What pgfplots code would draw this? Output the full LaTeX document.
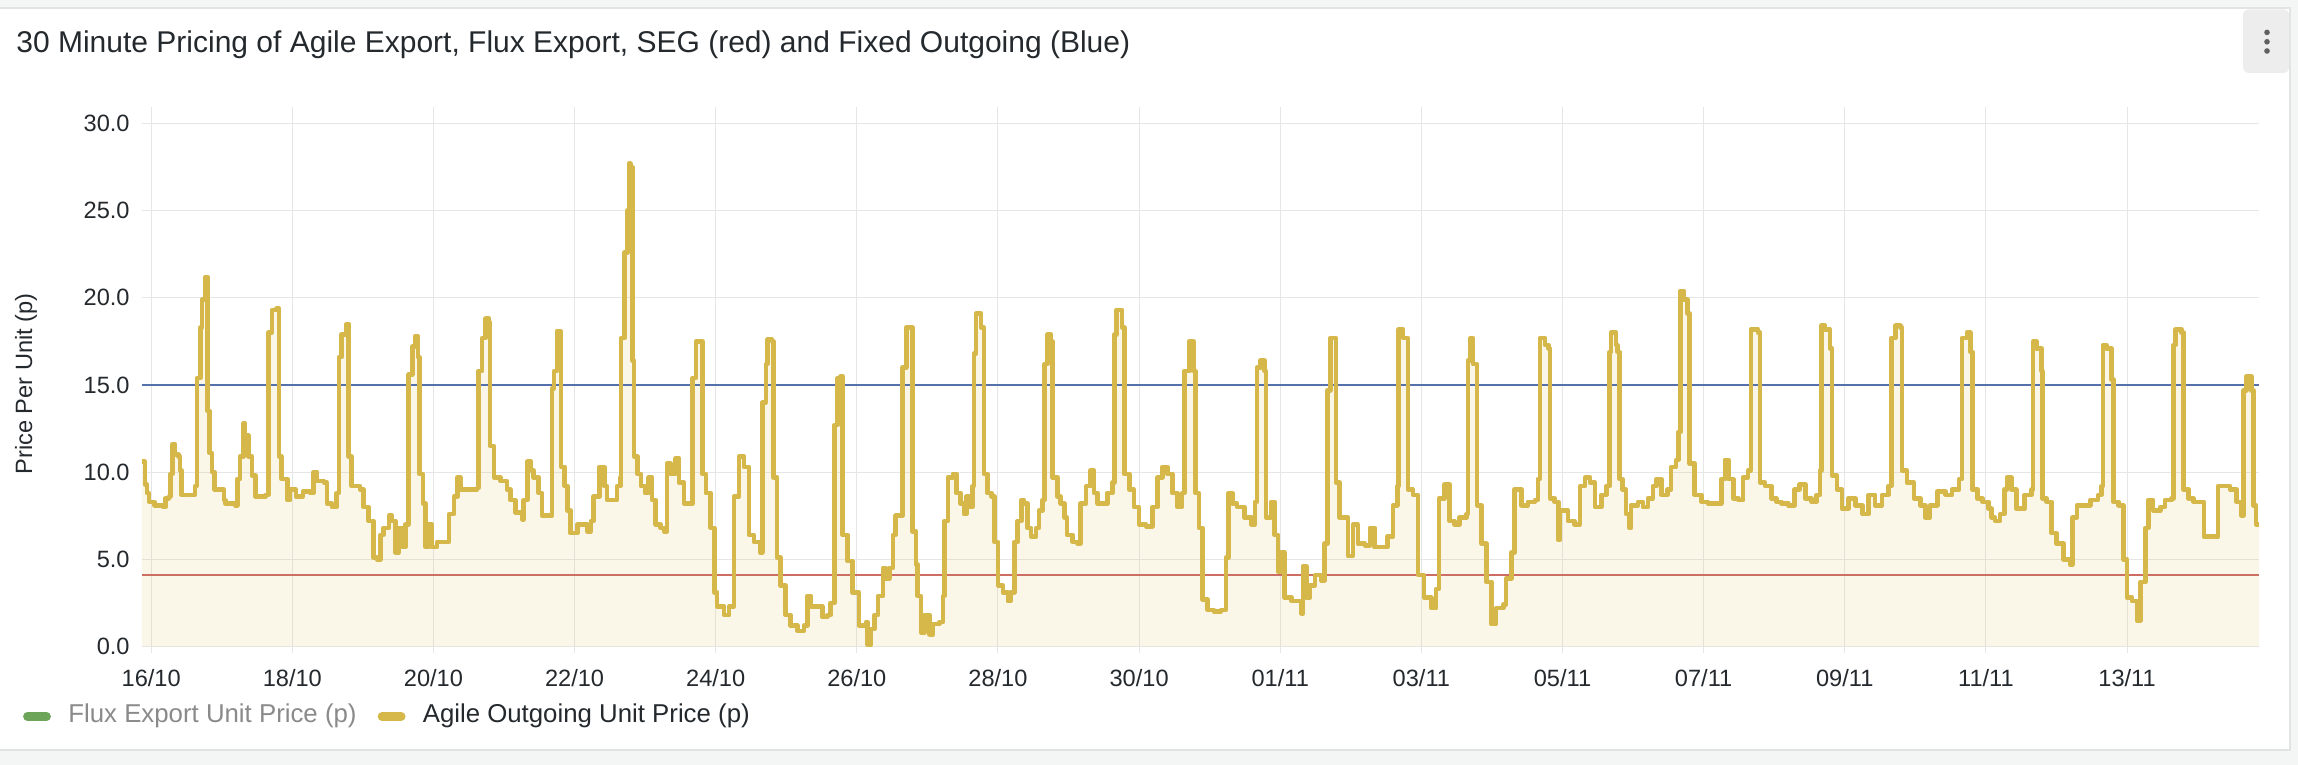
\documentclass[border=0pt]{standalone}
\usepackage{fontspec}
\setmainfont{Liberation Sans}
\usepackage{pgfplots}
\pgfplotsset{compat=1.18}
\usepackage{pgfplotstable}
\definecolor{bggray}{HTML}{F4F5F5}
\definecolor{bordergray}{HTML}{E2E3E4}
\definecolor{gridgray}{HTML}{E6E6E6}
\definecolor{agile}{HTML}{D6B84A}
\definecolor{fixedblue}{HTML}{5570AA}
\definecolor{segred}{HTML}{CD6E64}
\definecolor{fluxgreen}{HTML}{6CA55A}
\definecolor{textdark}{HTML}{24292E}
\definecolor{textgray}{HTML}{8A8A8A}
\definecolor{btngray}{HTML}{EDEDED}
\definecolor{dotgray}{HTML}{606060}

\pgfplotstableread{
x y
-0.13 10.6
-0.11 10.6
-0.09 9.3
-0.06 8.8
-0.03 8.3
0.05 8.1
0.17 8.0
0.20 8.5
0.25 8.6
0.27 9.9
0.30 11.6
0.34 11.0
0.39 10.9
0.41 10.1
0.43 8.7
0.60 8.7
0.62 9.2
0.65 15.4
0.70 18.3
0.72 19.9
0.77 21.2
0.79 21.2
0.80 13.5
0.83 11.1
0.86 10.0
0.90 9.0
1.03 8.4
1.05 8.2
1.19 8.1
1.22 9.6
1.26 10.9
1.31 12.8
1.33 12.1
1.38 10.9
1.43 9.8
1.48 8.6
1.62 8.7
1.66 18.0
1.71 19.3
1.78 19.4
1.81 10.9
1.85 9.6
1.93 8.4
1.97 9.0
2.05 8.6
2.15 8.9
2.25 8.8
2.30 10.0
2.35 9.5
2.45 9.4
2.49 8.2
2.56 8.0
2.63 8.8
2.66 16.6
2.70 17.9
2.77 18.5
2.80 10.9
2.84 9.2
2.96 9.0
3.01 8.0
3.08 7.2
3.15 5.1
3.20 5.0
3.25 6.4
3.29 6.8
3.37 7.5
3.41 7.2
3.46 5.4
3.51 6.8
3.56 5.7
3.60 7.0
3.65 15.6
3.70 17.2
3.74 17.8
3.78 16.6
3.80 9.9
3.85 8.2
3.89 5.7
3.93 7.0
3.98 5.7
4.05 6.0
4.17 6.0
4.22 7.6
4.29 8.6
4.34 9.7
4.38 9.0
4.62 9.1
4.64 15.8
4.69 17.7
4.74 18.8
4.79 18.6
4.80 11.5
4.86 9.7
4.95 9.5
5.04 9.0
5.09 8.4
5.16 7.7
5.26 7.3
5.28 8.4
5.33 10.6
5.38 10.1
5.42 9.7
5.49 8.8
5.54 7.5
5.66 7.5
5.68 14.8
5.71 15.8
5.75 18.1
5.80 18.0
5.81 10.3
5.86 9.2
5.90 7.8
5.94 6.5
6.04 7.0
6.18 6.6
6.23 7.2
6.27 8.6
6.35 10.3
6.42 9.2
6.46 8.4
6.58 8.4
6.60 9.2
6.65 9.7
6.66 17.7
6.71 22.6
6.75 25.0
6.77 27.7
6.79 27.5
6.82 16.4
6.84 10.9
6.89 9.9
6.94 9.2
7.00 8.8
7.05 9.7
7.10 8.4
7.15 7.0
7.22 6.8
7.27 6.6
7.31 10.5
7.36 9.9
7.43 10.8
7.48 9.4
7.55 8.2
7.62 8.2
7.67 15.4
7.72 17.5
7.79 17.5
7.81 9.9
7.86 8.8
7.93 6.8
7.98 3.1
8.02 2.3
8.12 1.8
8.19 2.3
8.26 8.6
8.33 10.9
8.40 10.3
8.47 6.4
8.54 6.0
8.63 5.4
8.66 14.0
8.71 16.2
8.73 17.6
8.80 17.5
8.82 9.7
8.87 5.1
8.92 3.5
8.99 1.8
9.06 1.2
9.16 0.9
9.25 1.2
9.30 2.9
9.35 2.3
9.44 2.3
9.51 1.7
9.58 1.8
9.63 2.5
9.68 12.7
9.73 15.4
9.77 15.5
9.80 6.4
9.87 4.9
9.94 3.1
10.03 1.2
10.13 1.4
10.15 0.1
10.20 1.0
10.25 1.8
10.30 2.9
10.37 4.5
10.41 3.9
10.46 4.5
10.51 6.4
10.55 7.5
10.63 7.5
10.65 16.0
10.70 18.3
10.77 18.3
10.79 6.6
10.84 4.7
10.86 2.9
10.91 0.8
10.96 1.8
11.03 0.7
11.08 1.3
11.17 1.4
11.22 2.9
11.24 7.2
11.29 9.7
11.36 9.9
11.41 8.8
11.47 8.2
11.52 7.6
11.55 8.6
11.59 8.0
11.64 9.2
11.66 16.8
11.69 19.1
11.76 18.3
11.80 9.9
11.85 8.8
11.91 8.6
11.95 6.0
12.00 3.5
12.07 3.1
12.14 2.6
12.18 3.1
12.23 6.0
12.28 7.2
12.33 8.4
12.37 8.2
12.42 6.8
12.47 6.3
12.54 6.8
12.58 7.8
12.63 8.4
12.66 16.2
12.70 17.9
12.75 17.5
12.77 9.7
12.84 8.6
12.89 8.2
12.94 7.4
12.98 6.4
13.06 6.0
13.13 5.9
13.17 8.2
13.25 9.2
13.31 10.1
13.36 8.8
13.41 8.2
13.48 8.2
13.55 8.8
13.62 9.4
13.65 17.9
13.68 19.3
13.76 18.3
13.79 9.9
13.86 9.0
13.93 8.0
14.00 7.0
14.10 6.9
14.19 8.0
14.26 9.7
14.33 10.3
14.40 9.9
14.47 8.8
14.54 8.0
14.61 8.8
14.64 15.8
14.71 17.5
14.77 15.8
14.80 8.8
14.85 6.8
14.90 2.7
14.97 2.1
15.06 2.0
15.16 2.1
15.23 5.1
15.27 8.8
15.32 8.2
15.39 8.0
15.49 7.4
15.59 7.0
15.64 8.3
15.67 16.0
15.72 16.4
15.78 15.8
15.80 7.4
15.87 8.3
15.92 6.4
15.97 4.3
16.01 5.4
16.06 2.8
16.16 2.6
16.30 1.9
16.32 4.6
16.37 2.8
16.42 3.5
16.49 4.1
16.58 3.8
16.63 5.9
16.67 14.7
16.71 17.7
16.77 17.7
16.79 9.4
16.84 7.4
16.91 7.4
16.96 5.2
17.03 7.0
17.10 5.9
17.20 5.8
17.27 6.8
17.34 5.7
17.43 5.7
17.52 6.3
17.60 8.1
17.66 9.2
17.68 18.2
17.74 17.7
17.81 9.0
17.88 8.7
17.95 4.1
18.04 2.8
18.14 2.2
18.21 3.3
18.25 8.5
18.33 9.3
18.40 7.2
18.47 7.0
18.54 7.4
18.64 7.6
18.66 16.4
18.70 17.7
18.73 16.2
18.77 16.2
18.79 8.1
18.85 5.9
18.92 3.7
18.99 1.3
19.06 2.2
19.16 2.4
19.20 3.9
19.28 5.4
19.32 9.0
19.42 8.1
19.51 8.3
19.61 8.4
19.65 9.6
19.68 17.7
19.75 17.3
19.80 17.1
19.82 8.5
19.89 8.3
19.94 6.1
19.96 7.8
20.08 7.2
20.17 7.0
20.25 9.2
20.32 9.7
20.39 9.4
20.46 8.0
20.55 8.7
20.62 9.2
20.67 16.9
20.69 18.0
20.76 17.3
20.78 16.9
20.81 9.6
20.85 9.0
20.90 7.6
20.95 6.8
20.97 8.1
21.07 8.3
21.14 8.0
21.21 8.5
21.28 9.2
21.33 9.6
21.40 8.7
21.49 9.0
21.54 10.3
21.61 10.7
21.64 12.3
21.67 20.4
21.72 19.9
21.77 19.1
21.80 10.5
21.87 8.7
21.97 8.3
22.06 8.2
22.16 8.2
22.25 9.6
22.30 10.7
22.35 9.6
22.42 8.5
22.49 8.4
22.56 9.7
22.63 10.1
22.67 18.2
22.70 18.2
22.77 18.0
22.80 9.4
22.87 9.2
22.96 8.5
23.03 8.3
23.10 8.2
23.20 8.1
23.29 9.0
23.36 9.3
23.44 8.5
23.53 8.3
23.60 8.7
23.65 10.1
23.67 18.4
23.72 18.2
23.79 17.1
23.82 9.8
23.89 9.0
23.96 7.9
24.05 8.5
24.15 8.1
24.25 7.6
24.34 8.7
24.43 8.1
24.53 8.7
24.62 9.2
24.66 17.7
24.72 18.4
24.79 18.3
24.81 10.1
24.88 9.4
24.98 8.5
25.07 8.1
25.14 7.4
25.21 8.1
25.31 8.9
25.43 8.7
25.52 9.0
25.62 9.6
25.66 17.7
25.73 18.0
25.78 16.9
25.81 9.0
25.88 8.5
25.95 8.3
26.04 7.9
26.08 7.4
26.13 7.2
26.20 7.6
26.26 9.0
26.30 9.7
26.36 9.0
26.43 7.9
26.51 7.9
26.55 8.7
26.65 9.0
26.67 17.5
26.72 17.1
26.79 15.8
26.80 8.5
26.86 8.3
26.93 6.5
27.00 5.9
27.10 5.0
27.19 4.7
27.23 7.4
27.29 8.1
27.38 8.1
27.48 8.4
27.59 8.7
27.64 9.2
27.66 17.3
27.71 17.1
27.78 15.3
27.81 8.3
27.88 8.1
27.95 5.0
28.00 2.8
28.07 2.6
28.14 1.5
28.19 3.7
28.26 6.8
28.30 8.4
28.37 7.8
28.47 8.0
28.54 8.4
28.63 8.5
28.66 17.3
28.69 18.2
28.77 18.0
28.80 9.0
28.87 8.5
28.94 8.3
29.03 8.3
29.09 6.3
29.22 6.3
29.29 9.2
29.36 9.2
29.46 9.0
29.55 8.3
29.62 7.5
29.65 14.7
29.69 15.5
29.76 14.7
29.79 8.1
29.83 7.0
29.87 7.0
}\agiletable

\begin{document}
\begin{tikzpicture}
\useasboundingbox (0,0) rectangle (1149pt,382.5pt);
\fill[bggray] (0,0) rectangle (1149pt,382.5pt);
\filldraw[fill=white, draw=bordergray, line width=0.7pt] (-3pt,7.5pt) rectangle (1145pt,378.5pt);
% menu button
\fill[btngray, rounded corners=3pt] (1121.5pt,346pt) rectangle (1144.6pt,377.8pt);
\fill[dotgray] (1133.5pt,366.3pt) circle (1.4pt);
\fill[dotgray] (1133.5pt,361.6pt) circle (1.4pt);
\fill[dotgray] (1133.5pt,357pt) circle (1.4pt);
% title
\node[anchor=base west, inner sep=0pt, text=textdark, font=\fontsize{15}{18}\selectfont] at (8pt,356.2pt)
  {30 Minute Pricing of Agile Export, Flux Export, SEG (red) and Fixed Outgoing (Blue)};
% y label
\node[rotate=90, inner sep=0pt, text=textdark, font=\fontsize{11.8}{14}\selectfont] at (13pt,190.5pt)
  {Price Per Unit (p)};
\begin{axis}[
  at={(71pt,56.2pt)}, anchor=south west, scale only axis,
  width=1058.5pt, height=272.8pt,
  xmin=-0.13, xmax=29.87, ymin=-0.35, ymax=30.95,
  axis line style={draw=none},
  tick style={draw=none},
  major tick length=0pt,
  grid=major,
  major grid style={draw=gridgray, line width=0.5pt},
  xtick={0,2,4,6,8,10,12,14,16,18,20,22,24,26,28},
  xticklabels={16/10,18/10,20/10,22/10,24/10,26/10,28/10,30/10,01/11,03/11,05/11,07/11,09/11,11/11,13/11},
  ytick={0,5,10,15,20,25,30},
  yticklabels={0.0,5.0,10.0,15.0,20.0,25.0,30.0},
  xticklabel style={anchor=base, yshift=-17.2pt, inner sep=0pt, text=textdark, font=\fontsize{11.8}{14}\selectfont},
  yticklabel style={anchor=east, xshift=-6pt, inner sep=0pt, text=textdark, font=\fontsize{11.8}{14}\selectfont},
]
\addplot[draw=none, fill=agile, fill opacity=0.12, const plot] table[x=x, y=y] {\agiletable} \closedcycle;
\addplot[fixedblue, line width=0.9pt] coordinates {(-0.13,15.0) (29.87,15.0)};
\addplot[segred, line width=0.9pt] coordinates {(-0.13,4.1) (29.87,4.1)};
\addplot[agile, line width=2.3pt, const plot, line join=round] table[x=x, y=y] {\agiletable};
\end{axis}
% legend
\draw[fluxgreen, line width=4.3pt, line cap=round] (13.7pt,24.25pt) -- (23.3pt,24.25pt);
\node[anchor=base west, inner sep=0pt, text=textgray, font=\fontsize{12.9}{15}\selectfont] at (34pt,21pt) {Flux Export Unit Price (p)};
\draw[agile, line width=4.3pt, line cap=round] (191pt,24.25pt) -- (200.6pt,24.25pt);
\node[anchor=base west, inner sep=0pt, text=textdark, font=\fontsize{12.9}{15}\selectfont] at (211.2pt,21pt) {Agile Outgoing Unit Price (p)};
\end{tikzpicture}
\end{document}
